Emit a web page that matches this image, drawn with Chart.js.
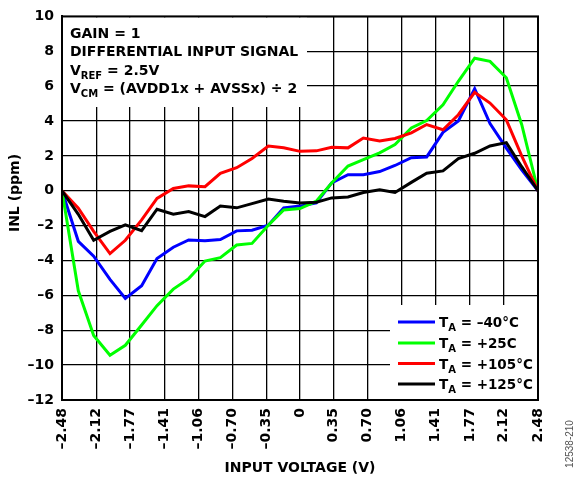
<!DOCTYPE html>
<html lang="en">
<head>
  <meta charset="UTF-8">
  <title>INL vs Input Voltage</title>
  <style>
    * { margin: 0; padding: 0; box-sizing: border-box; }
    body { background: #fff; width: 579px; height: 481px; overflow: hidden; }
    #wrap { position: relative; width: 579px; height: 481px; }
  </style>
</head>
<body>
  <div id="wrap">
    <canvas id="inlChart" width="579" height="481"></canvas>
  </div>

  <script src="https://cdn.jsdelivr.net/npm/chart.js"></script>
  <script>
    // input voltage (V) of each measured point
    const voltage = [-2.48, -2.31, -2.15, -1.98, -1.82, -1.65, -1.49, -1.32, -1.16, -0.99,
                     -0.83, -0.66, -0.50, -0.33, -0.17, 0.00, 0.17, 0.33, 0.50, 0.66,
                     0.83, 0.99, 1.16, 1.32, 1.49, 1.65, 1.82, 1.98, 2.15, 2.31, 2.48];

    // INL (ppm) per temperature
    const inlM40 = [0, -2.9, -3.75, -5.08, -6.17, -5.45, -3.88, -3.24, -2.82, -2.86,
                    -2.8, -2.3, -2.26, -1.98, -0.98, -0.88, -0.7, 0.45, 0.92, 0.92,
                    1.1, 1.45, 1.9, 1.94, 3.35, 4.0, 5.85, 3.85, 2.45, 1.2, 0];
    const inl25 = [0, -5.74, -8.3, -9.43, -8.86, -7.7, -6.59, -5.64, -5.04, -4.03,
                   -3.84, -3.11, -3.02, -1.98, -1.1, -1.02, -0.6, 0.45, 1.42, 1.78,
                   2.17, 2.65, 3.6, 4.03, 4.93, 6.28, 7.6, 7.42, 6.48, 3.8, 0];
    const inl105 = [0, -1.0, -2.33, -3.6, -2.84, -1.67, -0.44, 0.13, 0.28, 0.23,
                    1.0, 1.32, 1.85, 2.57, 2.47, 2.26, 2.29, 2.5, 2.46, 3.02,
                    2.85, 3.0, 3.32, 3.8, 3.5, 4.36, 5.65, 5.03, 4.07, 2.0, 0];
    const inl125 = [0, -1.35, -2.84, -2.33, -1.95, -2.29, -1.06, -1.34, -1.19, -1.48,
                    -0.87, -0.98, -0.74, -0.47, -0.6, -0.7, -0.66, -0.41, -0.36, -0.1,
                    0.05, -0.1, 0.48, 1.01, 1.14, 1.85, 2.15, 2.57, 2.76, 1.38, 0];

    const seriesNames = ['–40°C', '+25C', '+105°C', '+125°C'];
    const seriesColors = ['#0000ff', '#00ff00', '#ff0000', '#000000'];

    // axis ticks
    const xTicks = [-2.48, -2.12, -1.77, -1.41, -1.06, -0.70, -0.35, 0, 0.35, 0.70, 1.06, 1.41, 1.77, 2.12, 2.48];
    const xTickLabels = ['–2.48', '–2.12', '–1.77', '–1.41', '–1.06', '–0.70', '–0.35', '0',
                         '0.35', '0.70', '1.06', '1.41', '1.77', '2.12', '2.48'];
    const yTicks = [-12, -10, -8, -6, -4, -2, 0, 2, 4, 6, 8, 10];

    const FONT = 'DejaVu Sans';
    Chart.defaults.font.family = FONT;
    Chart.defaults.font.size = 14;
    Chart.defaults.font.weight = 'bold';
    Chart.defaults.color = '#000';

    // draws text made of [string, isSubscript] parts, returns end x
    function drawParts(ctx, x, y, parts, size, subSize) {
      parts.forEach(([txt, sub]) => {
        ctx.font = 'bold ' + (sub ? subSize : size) + 'px "' + FONT + '"';
        ctx.fillText(txt, x, sub ? y + 4 : y);
        x += ctx.measureText(txt).width;
      });
      return x;
    }

    const overlay = {
      id: 'overlay',
      beforeDatasetsDraw(chart) {
        const { ctx, chartArea: a } = chart;
        ctx.save();
        ctx.fillStyle = '#fff';
        // note box top-left and legend box bottom-right hide the grid
        ctx.fillRect(a.left + 1, a.top + 1, 306 - a.left, 106 - a.top);
        ctx.fillRect(390, 305, a.right - 391, a.bottom - 306);
        ctx.restore();
      },
      afterDraw(chart) {
        const { ctx, chartArea: a } = chart;
        ctx.save();
        // frame
        ctx.strokeStyle = '#000';
        ctx.lineWidth = 2;
        ctx.strokeRect(a.left, a.top, a.right - a.left, a.bottom - a.top);

        // notes
        ctx.fillStyle = '#000';
        ctx.textBaseline = 'alphabetic';
        ctx.textAlign = 'left';
        drawParts(ctx, 70, 38, [['GAIN = 1']], 14, 10);
        drawParts(ctx, 70, 56, [['DIFFERENTIAL INPUT SIGNAL']], 14, 10);
        drawParts(ctx, 70, 75, [['V'], ['REF', true], [' = 2.5V']], 14, 10);
        drawParts(ctx, 70, 93, [['V'], ['CM', true], [' = (AVDD1x + AVSSx) ÷ 2']], 14, 10);

        // legend
        const rows = [322, 343, 363.5, 384];
        seriesNames.forEach((name, i) => {
          ctx.strokeStyle = seriesColors[i];
          ctx.lineWidth = 3;
          ctx.beginPath();
          ctx.moveTo(398, rows[i]);
          ctx.lineTo(435, rows[i]);
          ctx.stroke();
          drawParts(ctx, 439, rows[i] + 5, [['T'], ['A', true], [' = ' + name]], 13.5, 10);
        });

        // axis titles
        ctx.font = 'bold 14px "' + FONT + '"';
        ctx.textAlign = 'center';
        ctx.textBaseline = 'middle';
        ctx.fillText('INPUT VOLTAGE (V)', (a.left + a.right) / 2, 468);
        ctx.save();
        ctx.translate(15, 193);
        ctx.rotate(-Math.PI / 2);
        ctx.fillText('INL (ppm)', 0, 0);
        ctx.restore();

        // figure id
        ctx.save();
        ctx.translate(570, 444);
        ctx.rotate(-Math.PI / 2);
        ctx.font = '10px "Liberation Sans"';
        ctx.fillStyle = '#555';
        ctx.fillText('12538-210', 0, 0);
        ctx.restore();
        ctx.restore();
      }
    };

    const temps = [inlM40, inl25, inl105, inl125];

    new Chart(document.getElementById('inlChart').getContext('2d'), {
      type: 'line',
      data: {
        datasets: temps.map((vals, i) => ({
          label: 'TA = ' + seriesNames[i],
          data: voltage.map((v, k) => ({ x: v, y: vals[k] })),
          borderColor: seriesColors[i],
          borderWidth: 3,
          pointRadius: 0,
          tension: 0,
          fill: false
        })).reverse()
      },
      options: {
        responsive: false,
        animation: false,
        layout: { padding: { top: 14, right: 41, left: 0, bottom: 0 } },
        plugins: { legend: { display: false }, tooltip: { enabled: false } },
        scales: {
          x: {
            type: 'linear',
            min: -2.48,
            max: 2.48,
            afterBuildTicks: s => { s.ticks = xTicks.map(v => ({ value: v })); },
            afterFit: s => { s.height = 81; },
            ticks: {
              autoSkip: false,
              minRotation: 90,
              maxRotation: 90,
              padding: 8,
              callback: (v, idx) => xTickLabels[idx]
            },
            grid: { color: '#000', lineWidth: 1.3, drawTicks: false },
            border: { display: true, color: '#000', width: 2 }
          },
          y: {
            min: -12,
            max: 10,
            afterBuildTicks: s => { s.ticks = yTicks.map(v => ({ value: v })); },
            afterFit: s => { s.width = 62; },
            ticks: {
              padding: 8,
              callback: v => String(v).replace('-', '–')
            },
            grid: { color: '#000', lineWidth: 1.3, drawTicks: false },
            border: { display: true, color: '#000', width: 2 }
          }
        }
      },
      plugins: [overlay]
    });
  </script>
</body>
</html>
